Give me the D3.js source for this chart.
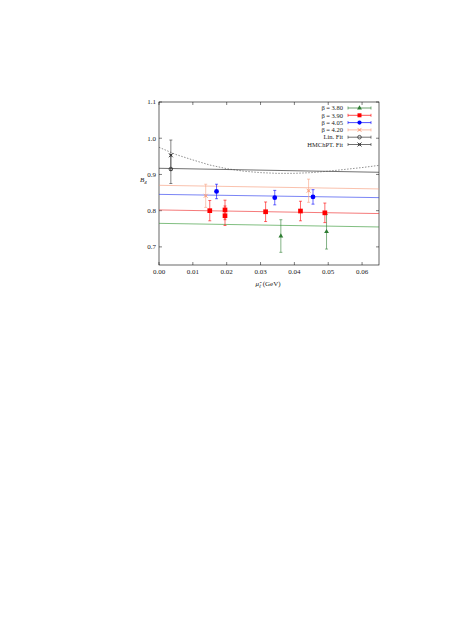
<!DOCTYPE html>
<html><head><meta charset="utf-8">
<script src="https://cdn.jsdelivr.net/npm/d3@7"></script>
<style>body{margin:0;background:#fff}text{font-family:"Liberation Serif","DejaVu Serif",serif;fill:#222}</style>
</head><body><svg id="c" width="455" height="643"></svg>
<script>
const xTicks = [0, 0.01, 0.02, 0.03, 0.04, 0.05, 0.06];
const yTicks = [0.7, 0.8, 0.9, 1.0, 1.1];
const b380 = [[0.036, 0.730, 0.045], [0.0495, 0.742, 0.048]];
const b390 = [[0.015, 0.800, 0.028], [0.0195, 0.802, 0.027], [0.0195, 0.786, 0.027], [0.0315, 0.797, 0.027], [0.0418, 0.799, 0.027], [0.049, 0.794, 0.027]];
const b405 = [[0.017, 0.853, 0.02], [0.0342, 0.836, 0.02], [0.0455, 0.838, 0.02]];
const b420 = [[0.0138, 0.841, 0.032], [0.0442, 0.855, 0.032]];
const linPt = [[0.0035, 0.915, 0.04]];
const hmPt = [[0.0035, 0.953, 0.042]];
const fitLines = [
  {c: "#3a9a3a", v: [0.765, 0.755]},
  {c: "#f03030", v: [0.802, 0.792]},
  {c: "#3040f0", v: [0.845, 0.836]},
  {c: "#f8a080", v: [0.870, 0.860]},
  {c: "#222", v: [0.917, 0.906]}
];
const dashX = [0, 0.005, 0.01, 0.015, 0.02, 0.025, 0.03, 0.035, 0.04, 0.045, 0.05, 0.055, 0.06, 0.065];
const dashY = [0.975, 0.955, 0.94, 0.926, 0.916, 0.909, 0.905, 0.903, 0.903, 0.905, 0.909, 0.914, 0.919, 0.925];
const legend = ["β = 3.80", "β = 3.90", "β = 4.05", "β = 4.20", "Lin. Fit", "HMChPT. Fit"];

const svg = d3.select("#c");
const x = d3.scaleLinear().domain([0, 0.065]).range([159, 379]);
const y = d3.scaleLinear().domain([0.65, 1.1]).range([265, 102]);
const g = svg.append("g");
g.append("rect").attr("x", 159).attr("y", 102).attr("width", 220).attr("height", 163).attr("fill", "none").attr("stroke", "#000").attr("stroke-width", 0.6);
xTicks.forEach(t => {
  g.append("line").attr("x1", x(t)).attr("x2", x(t)).attr("y1", 265).attr("y2", 262).attr("stroke", "#000").attr("stroke-width", 0.5);
  g.append("line").attr("x1", x(t)).attr("x2", x(t)).attr("y1", 102).attr("y2", 105).attr("stroke", "#000").attr("stroke-width", 0.5);
  g.append("text").attr("x", x(t)).attr("y", 274).attr("text-anchor", "middle").attr("font-size", 7).text(t.toFixed(2));
});
yTicks.forEach(t => {
  g.append("line").attr("x1", 159).attr("x2", 162).attr("y1", y(t)).attr("y2", y(t)).attr("stroke", "#000").attr("stroke-width", 0.5);
  g.append("line").attr("x1", 379).attr("x2", 376).attr("y1", y(t)).attr("y2", y(t)).attr("stroke", "#000").attr("stroke-width", 0.5);
  g.append("text").attr("x", 156).attr("y", y(t) + 2.3).attr("text-anchor", "end").attr("font-size", 7).text(t.toFixed(1));
});
const xl = g.append("text").attr("x", 268).attr("y", 286).attr("text-anchor", "middle").attr("font-size", 7);
xl.append("tspan").attr("font-style", "italic").text("μ̂");
xl.append("tspan").attr("font-size", 5).attr("dy", 1.5).attr("font-style", "italic").text("ℓ");
xl.append("tspan").attr("dy", -1.5).text(" (GeV)");
g.append("text").attr("x", 140).attr("y", 182).attr("font-size", 7).attr("font-style", "italic").text("B").append("tspan").attr("font-size", 5).attr("dy", 1.5).text("4");

fitLines.forEach(f => {
  g.append("line").attr("x1", x(0)).attr("x2", x(0.065)).attr("y1", y(f.v[0])).attr("y2", y(f.v[1])).attr("stroke", f.c).attr("stroke-width", 0.8).attr("opacity", 0.8);
});
g.append("path").attr("d", d3.line().x((d, i) => x(dashX[i])).y(d => y(d))(dashY)).attr("fill", "none").attr("stroke", "#444").attr("stroke-width", 0.6).attr("stroke-dasharray", "1.5,1.5");

function errs(data, color, shape, size) {
  data.forEach(d => {
    const cx = x(d[0]), y0 = y(d[1] - d[2]), y1 = y(d[1] + d[2]);
    g.append("line").attr("x1", cx).attr("x2", cx).attr("y1", y0).attr("y2", y1).attr("stroke", color).attr("stroke-width", 0.6);
    [y0, y1].forEach(yy => g.append("line").attr("x1", cx - 1.5).attr("x2", cx + 1.5).attr("y1", yy).attr("y2", yy).attr("stroke", color).attr("stroke-width", 0.6));
    marker(cx, y(d[1]), color, shape, size);
  });
}
function marker(cx, cy, color, shape, size) {
  if (shape === "cross") {
    g.append("path").attr("d", `M${cx-2},${cy-2}L${cx+2},${cy+2}M${cx-2},${cy+2}L${cx+2},${cy-2}`).attr("stroke", color).attr("stroke-width", 0.9);
    g.append("rect").attr("x", cx - 1).attr("y", cy - 1).attr("width", 2).attr("height", 2).attr("fill", color);
  } else if (shape === "ocircle") {
    g.append("circle").attr("cx", cx).attr("cy", cy).attr("r", 1.8).attr("fill", "none").attr("stroke", color).attr("stroke-width", 0.8);
  } else {
    const sym = {tri: d3.symbolTriangle, sq: d3.symbolSquare, circ: d3.symbolCircle}[shape];
    g.append("path").attr("transform", `translate(${cx},${cy})`).attr("d", d3.symbol(sym, size)()).attr("fill", color);
  }
}
errs(b380, "#2e7d32", "tri", 10);
errs(b390, "#ff0000", "sq", 22);
errs(b405, "#0000ff", "circ", 18);
errs(b420, "#f8a080", "cross", 0);
errs(linPt, "#333", "ocircle", 0);
errs(hmPt, "#333", "cross", 0);

const lc = ["#2e7d32", "#ff0000", "#0000ff", "#f8a080", "#333", "#333"];
const ls = ["tri", "sq", "circ", "cross", "ocircle", "cross"];
const lsz = [10, 16, 14, 0, 0, 0];
legend.forEach((t, i) => {
  const yy = 108 + i * 7.3;
  g.append("text").attr("x", 343).attr("y", yy + 2.2).attr("text-anchor", "end").attr("font-size", 6.5).text(t);
  g.append("line").attr("x1", 348).attr("x2", 371).attr("y1", yy).attr("y2", yy).attr("stroke", lc[i]).attr("stroke-width", 0.7);
  [348, 371].forEach(xx => g.append("line").attr("x1", xx).attr("x2", xx).attr("y1", yy - 1.5).attr("y2", yy + 1.5).attr("stroke", lc[i]).attr("stroke-width", 0.6));
  marker(359.5, yy, lc[i], ls[i], lsz[i]);
});
</script></body></html>
